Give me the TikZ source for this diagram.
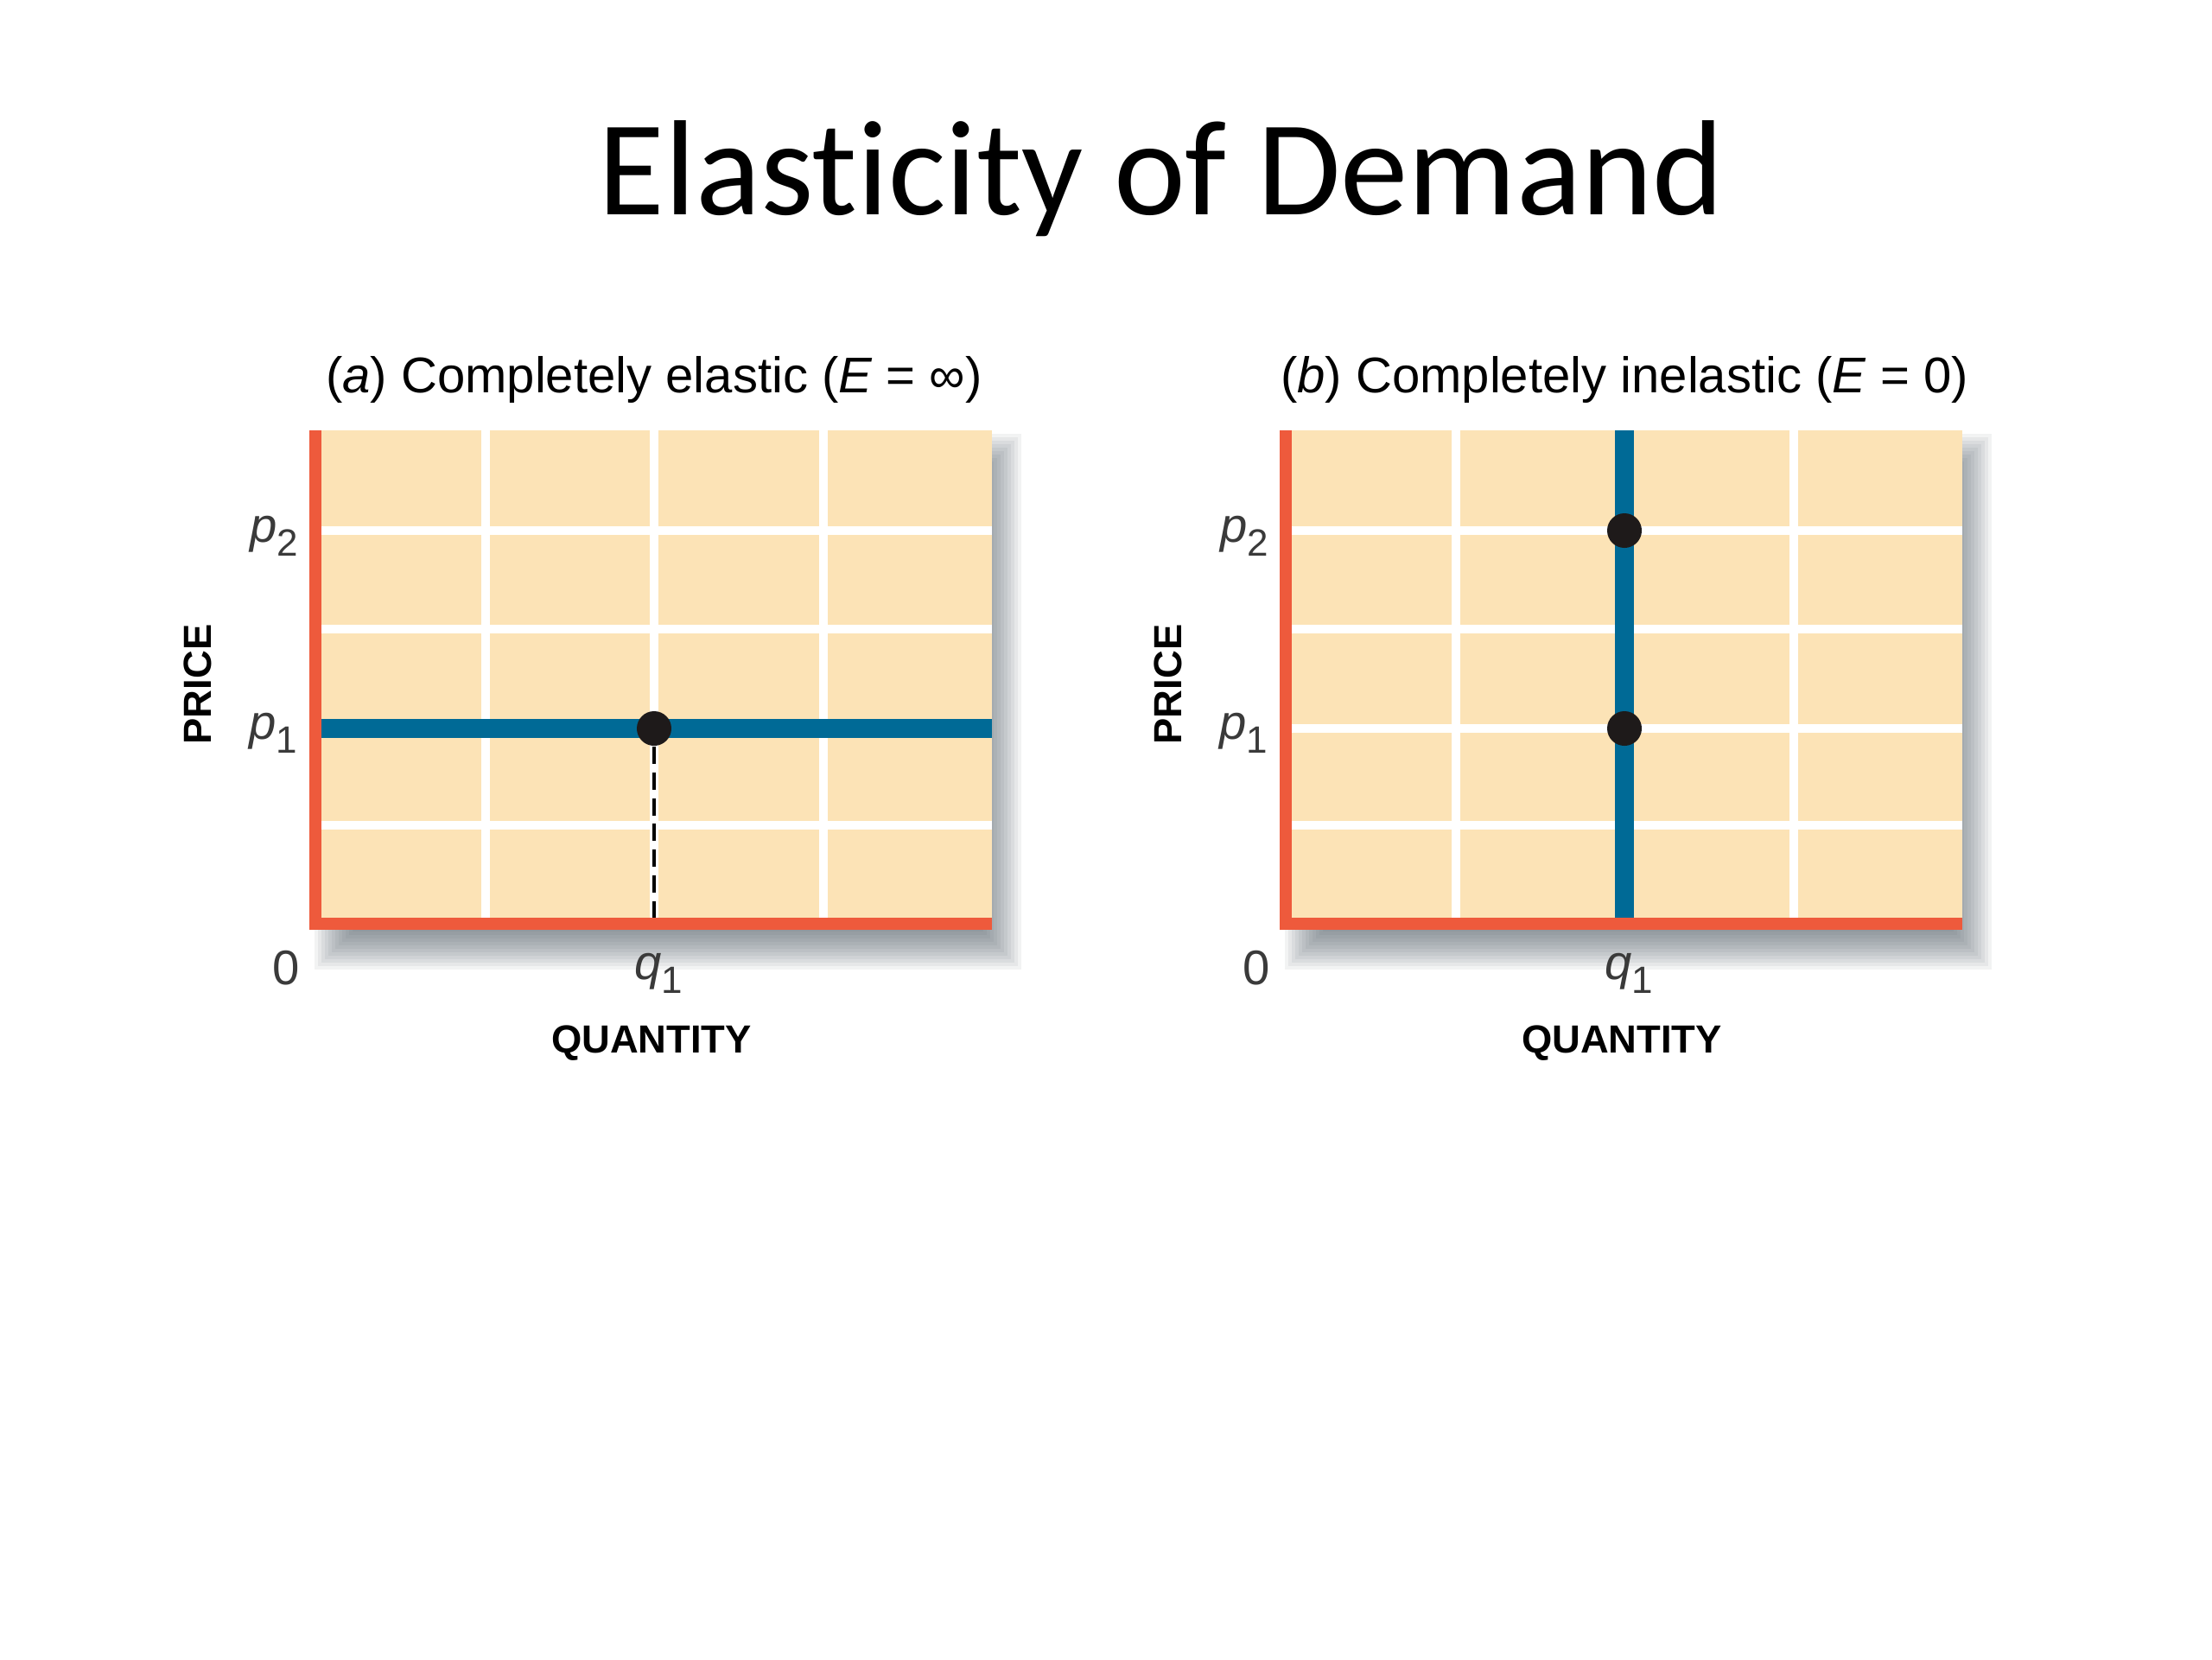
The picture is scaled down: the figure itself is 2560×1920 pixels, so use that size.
\documentclass[tikz,border=0pt]{standalone}
\usepackage{fontspec}
\setmainfont{Liberation Sans}
\newfontfamily\titlefont[Ligatures={NoCommon}]{Carlito}
\definecolor{plotfill}{HTML}{FCE3B6}
\definecolor{axisred}{HTML}{EE5A3C}
\definecolor{curveblue}{HTML}{006A96}
\definecolor{dotblack}{HTML}{1E1A1A}
\definecolor{labelgray}{HTML}{3A3A3A}
\definecolor{shadowcol}{HTML}{4A5560}
\tikzset{
  plotbg/.style={fill=plotfill, draw=none},
  gridline/.style={white, line width=2.6pt},
  axisline/.style={axisred, line width=4pt},
  curve/.style={curveblue, line width=6.5pt},
  dot/.style={circle, fill=dotblack, draw=none, minimum size=0.4cm, inner sep=0pt},
  dropline/.style={black, line width=1.1pt, dash pattern=on 5.7pt off 2.8pt},
  paneltitle/.style={font=\fontsize{16.5}{20}\selectfont, anchor=base, inner sep=0pt},
  ticklabel/.style={font=\fontsize{16}{19}\selectfont, text=labelgray, inner sep=0pt},
  axislabel/.style={font=\fontsize{12.9}{15}\selectfont\bfseries, inner sep=0pt},
}
\newcommand{\plabel}[1]{\textit{p}\raisebox{-0.28em}{\fontsize{12.5}{13}\selectfont #1}}
\newcommand{\qlabel}[1]{\textit{q}\raisebox{-0.28em}{\fontsize{12.5}{13}\selectfont #1}}
\newcommand{\panelshadow}{%
  \foreach \e in {-22,-18,...,22} {
    \fill[shadowcol, opacity=0.07] (372+14-\e,498+26-\e) rectangle (1148+12+\e,1076+24+\e);
  }}
\begin{document}
\begin{tikzpicture}[x=0.01cm, y=-0.01cm]
\useasboundingbox (0,0) rectangle (2560,1920);
\fill[white] (0,0) rectangle (2560,1920);

% Title
\node[font=\titlefont\fontsize{44.6}{54}\selectfont, anchor=base, inner sep=0pt] (title) at (1344,248) {Elasticity of Demand};

% ===================== Panel (a) =====================
\begin{scope}
  \panelshadow
  \fill[plotbg] (372,498) rectangle (1148,1062);
  \foreach \x in {562,757,953} { \draw[gridline] (\x,498) -- (\x,1062); }
  \foreach \y in {614,728,843,955} { \draw[gridline] (372,\y) -- (1148,\y); }
  \draw[axisline] (365,498) -- (365,1069) -- (1148,1069);
  \coordinate (aL) at (372,843);
  \coordinate (aR) at (1148,843);
  \coordinate (aB) at (757,1062);
  \draw[curve] (aL) -- (aR);
  \node[dot] (adot) at (757,843) {};
  \draw[dropline] (adot.south) -- (aB);
  \node[paneltitle] (atitle) at (757,454) {(\textit{a}) Completely elastic (\textit{E} = ∞)};
  \node[ticklabel] (ap2) at (317,620) {\plabel{2}};
  \node[ticklabel] (ap1) at (316,848) {\plabel{1}};
  \node[ticklabel] (a0) at (331,1120) {0};
  \node[ticklabel] (aq1) at (762,1126) {\qlabel{1}};
  \node[axislabel, rotate=90] (aprice) at (229,792) {PRICE};
  \node[axislabel] (aqty) at (754,1207) {QUANTITY};
\end{scope}

% ===================== Panel (b) =====================
\begin{scope}[shift={(1123,0)}]
  \panelshadow
  \fill[plotbg] (372,498) rectangle (1148,1062);
  \foreach \x in {562,757,953} { \draw[gridline] (\x,498) -- (\x,1062); }
  \foreach \y in {614,728,843,955} { \draw[gridline] (372,\y) -- (1148,\y); }
  \draw[axisline] (365,498) -- (365,1069) -- (1148,1069);
  \coordinate (bT) at (757,498);
  \coordinate (bB) at (757,1062);
  \draw[curve] (bT) -- (bB);
  \node[dot] (bdot2) at (757,614) {};
  \node[dot] (bdot1) at (757,843) {};
  \node[paneltitle] (btitle) at (757,454) {(\textit{b}) Completely inelastic (\textit{E} = 0)};
  \node[ticklabel] (bp2) at (317,620) {\plabel{2}};
  \node[ticklabel] (bp1) at (316,848) {\plabel{1}};
  \node[ticklabel] (b0) at (331,1120) {0};
  \node[ticklabel] (bq1) at (762,1126) {\qlabel{1}};
  \node[axislabel, rotate=90] (bprice) at (229,792) {PRICE};
  \node[axislabel] (bqty) at (754,1207) {QUANTITY};
\end{scope}
\end{tikzpicture}
\end{document}
